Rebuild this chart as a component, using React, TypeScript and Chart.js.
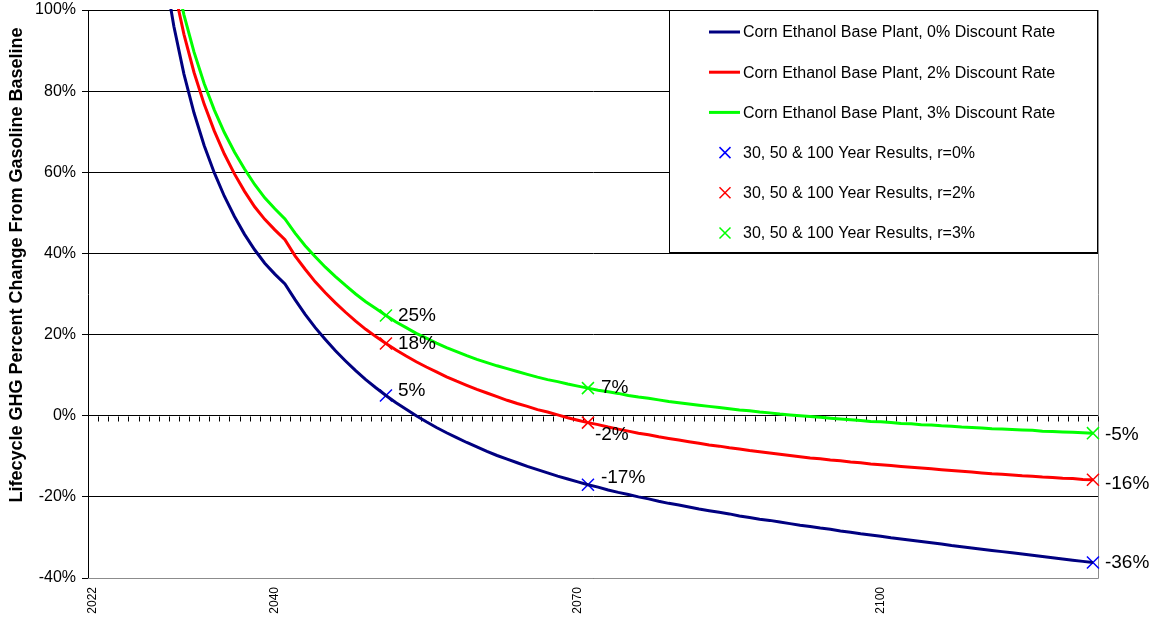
import React, { useEffect, useRef } from 'react';
import { Chart, registerables } from 'chart.js';

Chart.register(...registerables);

// ---------- data ----------
const FIRST_YEAR = 2022;
const YEAR_COUNT = 100;
const categories: string[] = Array.from({ length: YEAR_COUNT }, (_, i) => String(FIRST_YEAR + i));
const xTickLabels = ['2022', '2040', '2070', '2100'];

const Y_MIN = -40;
const Y_MAX = 100;
const Y_STEP = 20;

const seriesNames = [
  'Corn Ethanol Base Plant, 0% Discount Rate',
  'Corn Ethanol Base Plant, 2% Discount Rate',
  'Corn Ethanol Base Plant, 3% Discount Rate',
];
const resultNames = [
  '30, 50 & 100 Year Results, r=0%',
  '30, 50 & 100 Year Results, r=2%',
  '30, 50 & 100 Year Results, r=3%',
];

const rate0 = [
  1034.1, 506.4, 330.5, 242.6, 189.8, 154.6, 129.5, 110.6, 96.0, 84.2,
  74.6, 66.6, 59.9, 54.1, 49.1, 44.7, 40.9, 37.6, 34.9, 32.5,
  28.6, 25.0, 21.7, 18.8, 16.0, 13.5, 11.1, 8.9, 6.9, 5.0,
  3.2, 1.6, 0.0, -1.5, -2.9, -4.2, -5.4, -6.6, -7.7, -8.8,
  -9.8, -10.7, -11.6, -12.5, -13.3, -14.1, -14.9, -15.6, -16.3, -17.0,
  -17.6, -18.3, -18.9, -19.4, -20.0, -20.5, -21.1, -21.6, -22.0, -22.5,
  -23.0, -23.4, -23.8, -24.2, -24.7, -25.1, -25.5, -25.8, -26.2, -26.6,
  -27.0, -27.3, -27.7, -28.0, -28.4, -28.7, -29.1, -29.4, -29.7, -30.1,
  -30.4, -30.7, -31.0, -31.3, -31.6, -32.0, -32.3, -32.6, -32.9, -33.2,
  -33.5, -33.8, -34.1, -34.4, -34.7, -35.0, -35.3, -35.6, -35.9, -36.2,
];

const rate2 = [
  1024.0, 507.4, 335.1, 249.0, 197.4, 162.9, 138.3, 119.9, 105.5, 94.0,
  84.6, 76.8, 70.2, 64.5, 59.6, 55.3, 51.5, 48.4, 45.8, 43.4,
  39.4, 36.1, 33.0, 30.3, 27.8, 25.5, 23.3, 21.3, 19.5, 17.8,
  16.2, 14.7, 13.3, 12.0, 10.8, 9.6, 8.5, 7.5, 6.5, 5.6,
  4.7, 3.8, 3.0, 2.3, 1.5, 0.9, 0.2, -0.5, -1.1, -1.7,
  -2.2, -2.8, -3.3, -3.8, -4.3, -4.7, -5.2, -5.6, -6.0, -6.4,
  -6.8, -7.2, -7.5, -7.9, -8.2, -8.6, -8.9, -9.2, -9.5, -9.8,
  -10.1, -10.4, -10.6, -10.9, -11.1, -11.4, -11.6, -11.9, -12.1, -12.3,
  -12.5, -12.7, -12.9, -13.1, -13.3, -13.5, -13.7, -13.9, -14.1, -14.3,
  -14.4, -14.6, -14.8, -14.9, -15.1, -15.2, -15.4, -15.5, -15.7, -15.8,
];

const rate3 = [
  1010.7, 504.0, 335.2, 250.8, 200.1, 166.3, 142.2, 124.1, 110.0, 98.8,
  89.6, 81.9, 75.4, 69.8, 65.0, 60.8, 57.0, 53.7, 51.0, 48.5,
  45.0, 41.9, 39.2, 36.6, 34.3, 32.1, 30.0, 28.1, 26.4, 24.7,
  23.1, 21.7, 20.3, 19.1, 17.9, 16.8, 15.8, 14.8, 13.9, 13.1,
  12.3, 11.6, 10.9, 10.2, 9.5, 8.9, 8.4, 7.8, 7.3, 6.8,
  6.3, 5.9, 5.5, 5.0, 4.6, 4.3, 3.9, 3.5, 3.2, 2.9,
  2.6, 2.3, 2.0, 1.7, 1.4, 1.2, 0.9, 0.7, 0.4, 0.2,
  0.0, -0.2, -0.4, -0.6, -0.8, -1.0, -1.2, -1.4, -1.5, -1.7,
  -1.9, -2.0, -2.2, -2.3, -2.5, -2.6, -2.8, -2.9, -3.0, -3.2,
  -3.3, -3.4, -3.5, -3.6, -3.8, -3.9, -4.0, -4.1, -4.2, -4.3,
];

// 30, 50 & 100 year horizons
const resultHorizons = [30, 50, 100];
const results0 = [5.0, -17.0, -36.2];
const results2 = [17.8, -1.7, -15.8];
const results3 = [24.7, 6.8, -4.3];
const resultLabels0 = ['5%', '-17%', '-36%'];
const resultLabels2 = ['18%', '-2%', '-16%'];
const resultLabels3 = ['25%', '7%', '-5%'];

// ---------- styles ----------
const FONT = "'Liberation Sans', Arial, Helvetica, sans-serif";
const lineColors = ['#000080', '#FF0000', '#00FF00'];
const markerColors = ['#0000FF', '#FF0000', '#00FF00'];
// label nudges (dx, dy) relative to each marker, per series
const labelNudges = [
  [[12, -5], [13, -7], [12, 0]],
  [[12, 0], [7, 12], [12, 4]],
  [[12, 0], [13, 0], [12, 2]],
];

const resultValues = [results0, results2, results3];
const resultLabels = [resultLabels0, resultLabels2, resultLabels3];

const overlayPlugin = {
  id: 'overlay',
  beforeDatasetsDraw(chart: any) {
    const { ctx, chartArea, scales } = chart;
    const x = scales.x;
    const y = scales.y;
    ctx.save();
    // plot area border (right & bottom, gray)
    ctx.strokeStyle = '#8c8c8c';
    ctx.lineWidth = 1;
    ctx.beginPath();
    ctx.moveTo(Math.round(chartArea.right) + 0.5, chartArea.top);
    ctx.lineTo(Math.round(chartArea.right) + 0.5, Math.round(chartArea.bottom) + 0.5);
    ctx.lineTo(chartArea.left, Math.round(chartArea.bottom) + 0.5);
    ctx.stroke();
    // category axis ticks on the zero line
    const y0 = Math.round(y.getPixelForValue(0)) + 0.5;
    ctx.strokeStyle = '#000';
    ctx.beginPath();
    for (let i = 0; i <= categories.length; i++) {
      const px = Math.round(x.getPixelForValue(i - 0.5)) + 0.5;
      ctx.moveTo(px, y0);
      ctx.lineTo(px, y0 + 5);
    }
    ctx.stroke();
    ctx.restore();
  },
  afterDraw(chart: any) {
    const { ctx, chartArea } = chart;
    ctx.save();
    // y axis title
    ctx.translate(17, 265);
    ctx.rotate(-Math.PI / 2);
    ctx.font = `bold 18px ${FONT}`;
    ctx.fillStyle = '#000';
    ctx.textAlign = 'center';
    ctx.textBaseline = 'middle';
    ctx.fillText('Lifecycle GHG Percent Change From Gasoline Baseline', 0, 0);
    ctx.restore();

    // data labels next to the markers
    ctx.save();
    ctx.font = `19px ${FONT}`;
    ctx.fillStyle = '#000';
    ctx.textAlign = 'left';
    ctx.textBaseline = 'middle';
    for (let s = 0; s < 3; s++) {
      const meta = chart.getDatasetMeta(3 + s);
      meta.data.forEach((pt: any, j: number) => {
        const [dx, dy] = labelNudges[s][j];
        ctx.fillText(resultLabels[s][j], pt.x + dx, pt.y + dy);
      });
    }
    ctx.restore();

    // legend box
    const box = { left: 669, top: 10, right: Math.round(chartArea.right) - 1, bottom: 252 };
    ctx.save();
    ctx.fillStyle = '#fff';
    ctx.fillRect(box.left, box.top, box.right - box.left, box.bottom - box.top);
    ctx.strokeStyle = '#000';
    ctx.lineWidth = 1;
    ctx.strokeRect(box.left + 0.5, box.top + 0.5, box.right - box.left, box.bottom - box.top);
    ctx.font = `16px ${FONT}`;
    ctx.textAlign = 'left';
    ctx.textBaseline = 'middle';
    const names = [...seriesNames, ...resultNames];
    names.forEach((name, i) => {
      const ry = box.top + 22 + i * 40.2;
      if (i < 3) {
        ctx.strokeStyle = lineColors[i];
        ctx.lineWidth = 3;
        ctx.beginPath();
        ctx.moveTo(709, ry);
        ctx.lineTo(740, ry);
        ctx.stroke();
      } else {
        const c = markerColors[i - 3];
        ctx.strokeStyle = c;
        ctx.lineWidth = 1.5;
        const r = 5.5;
        const cx = 725;
        ctx.beginPath();
        ctx.moveTo(cx - r, ry - r);
        ctx.lineTo(cx + r, ry + r);
        ctx.moveTo(cx - r, ry + r);
        ctx.lineTo(cx + r, ry - r);
        ctx.stroke();
      }
      ctx.fillStyle = '#000';
      ctx.fillText(name, 743, ry + 1);
    });
    ctx.restore();
  },
};

export default function App() {
  const canvasRef = useRef<HTMLCanvasElement | null>(null);

  useEffect(() => {
    if (!canvasRef.current) return;
    const lineSets = [rate0, rate2, rate3].map((vals, i) => ({
      type: 'line' as const,
      label: seriesNames[i],
      data: vals,
      borderColor: lineColors[i],
      backgroundColor: lineColors[i],
      borderWidth: 3,
      pointRadius: 0,
      tension: 0,
      fill: false,
      clip: 1,
    }));
    const markerSets = resultValues.map((vals, i) => ({
      type: 'line' as const,
      label: resultNames[i],
      data: vals.map((v, j) => ({ x: categories[resultHorizons[j] - 1], y: v })),
      showLine: false,
      pointStyle: 'crossRot',
      pointRadius: 8.5,
      pointBorderWidth: 1.5,
      pointBorderColor: markerColors[i],
      pointBackgroundColor: markerColors[i],
      borderColor: markerColors[i],
      clip: false,
    }));

    const chart = new Chart(canvasRef.current, {
      type: 'line',
      data: { labels: categories, datasets: [...lineSets, ...markerSets] as any },
      options: {
        animation: false,
        responsive: true,
        maintainAspectRatio: false,
        layout: { padding: { top: 10, right: 53, left: 0, bottom: 0 } },
        plugins: { legend: { display: false }, tooltip: { enabled: false } },
        scales: {
          x: {
            type: 'category',
            offset: true,
            grid: { display: false, drawTicks: false },
            border: { display: false },
            ticks: {
              autoSkip: false,
              minRotation: 90,
              maxRotation: 90,
              padding: 9,
              color: '#000',
              font: { family: FONT, size: 12 },
              callback: (_v: any, i: number) => (xTickLabels.includes(categories[i]) ? categories[i] : ''),
            },
            afterFit: (s: any) => {
              s.height = 39;
              s.paddingLeft = 0;
              s.paddingRight = 0;
            },
          },
          y: {
            min: Y_MIN,
            max: Y_MAX,
            ticks: {
              stepSize: Y_STEP,
              padding: 6,
              color: '#000',
              font: { family: FONT, size: 16 },
              callback: (v: any) => `${v}%`,
            },
            grid: { color: '#000', lineWidth: 1, tickLength: 6 },
            border: { color: '#000', width: 1 },
            afterFit: (s: any) => {
              s.width = 88;
              s.paddingTop = 0;
              s.paddingBottom = 0;
            },
          },
        },
      } as any,
      plugins: [overlayPlugin],
    });
    return () => chart.destroy();
  }, []);

  return (
    <div style={{ position: 'absolute', left: 0, top: 0, width: 1151, height: 617, background: '#fff' }}>
      <canvas ref={canvasRef} />
    </div>
  );
}
